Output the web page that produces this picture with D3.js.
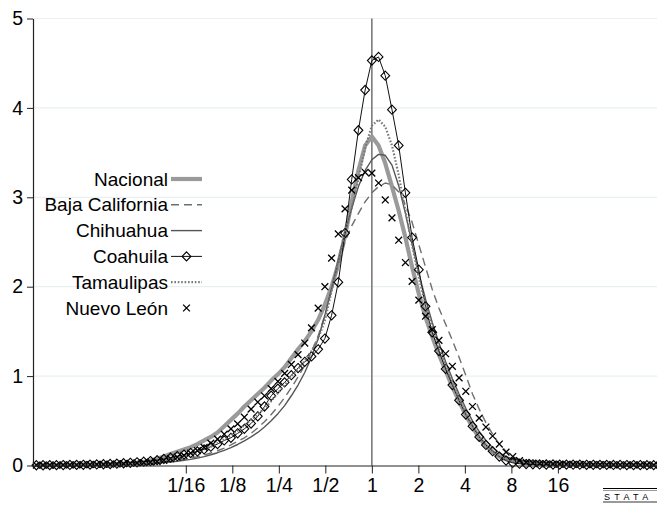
<!DOCTYPE html>
<html>
<head>
<meta charset="utf-8">
<script src="https://cdn.jsdelivr.net/npm/d3@7"></script>
<style>
  html, body { margin: 0; padding: 0; background: #fff; }
  svg { display: block; font-family: "Liberation Sans", Arial, sans-serif; }
</style>
</head>
<body>
<svg id="chart" width="657" height="506"></svg>
<script>
// Evaluation grid: log of the ratio (natural log), one point every 0.1
const lnGrid = [
  -5.0,-4.9,-4.8,-4.7,-4.6,-4.5,-4.4,-4.3,-4.2,-4.1,
  -4.0,-3.9,-3.8,-3.7,-3.6,-3.5,-3.4,-3.3,-3.2,-3.1,
  -3.0,-2.9,-2.8,-2.7,-2.6,-2.5,-2.4,-2.3,-2.2,-2.1,
  -2.0,-1.9,-1.8,-1.7,-1.6,-1.5,-1.4,-1.3,-1.2,-1.1,
  -1.0,-0.9,-0.8,-0.7,-0.6,-0.5,-0.4,-0.3,-0.2,-0.1,
  0.0,0.1,0.2,0.3,0.4,0.5,0.6,0.7,0.8,0.9,
  1.0,1.1,1.2,1.3,1.4,1.5,1.6,1.7,1.8,1.9,
  2.0,2.1,2.2,2.3,2.4,2.5,2.6,2.7,2.8,2.9,
  3.0,3.1,3.2,3.3,3.4,3.5,3.6,3.7,3.8,3.9,
  4.0,4.1,4.2,4.3,4.4,4.5,4.6,4.7,4.8,4.9,5.0
];

// Densities, one value per grid point
const nacional = [
  0.004,0.004,0.005,0.005,0.006,0.007,0.008,0.009,0.010,0.011,
  0.013,0.015,0.018,0.022,0.027,0.033,0.042,0.055,0.075,0.100,
  0.128,0.155,0.180,0.205,0.240,0.280,0.320,0.370,0.440,0.510,
  0.580,0.660,0.730,0.800,0.870,0.950,1.020,1.100,1.200,1.300,
  1.390,1.500,1.630,1.800,2.000,2.250,2.570,2.950,3.300,3.580,
  3.680,3.580,3.380,3.120,2.850,2.550,2.220,1.920,1.660,1.440,
  1.240,1.060,0.880,0.720,0.560,0.430,0.310,0.220,0.150,0.100,
  0.070,0.050,0.040,0.033,0.028,0.024,0.021,0.019,0.017,0.015,
  0.014,0.013,0.012,0.011,0.010,0.009,0.009,0.008,0.007,0.007,
  0.006,0.006,0.005,0.005,0.005,0.004,0.004,0.004,0.003,0.003,0.003
];
const bajaCalifornia = [
  0.002,0.002,0.002,0.003,0.003,0.003,0.004,0.004,0.005,0.006,
  0.007,0.008,0.009,0.011,0.013,0.016,0.020,0.025,0.031,0.038,
  0.047,0.057,0.068,0.082,0.098,0.117,0.140,0.165,0.195,0.230,
  0.270,0.310,0.360,0.420,0.490,0.570,0.660,0.760,0.870,0.990,
  1.120,1.270,1.450,1.680,1.960,2.250,2.500,2.680,2.820,2.950,
  3.050,3.120,3.160,3.140,3.060,2.920,2.720,2.470,2.220,1.970,
  1.760,1.580,1.400,1.210,1.010,0.800,0.630,0.480,0.350,0.240,
  0.160,0.100,0.065,0.045,0.035,0.028,0.024,0.021,0.018,0.016,
  0.014,0.013,0.012,0.011,0.010,0.009,0.008,0.008,0.007,0.006,
  0.006,0.005,0.005,0.004,0.004,0.004,0.003,0.003,0.003,0.002,0.002
];
const chihuahua = [
  0.001,0.001,0.002,0.002,0.002,0.003,0.003,0.004,0.004,0.005,
  0.006,0.007,0.008,0.010,0.012,0.014,0.017,0.021,0.026,0.032,
  0.039,0.047,0.057,0.069,0.083,0.100,0.120,0.143,0.170,0.200,
  0.235,0.275,0.320,0.370,0.430,0.500,0.580,0.670,0.780,0.900,
  1.040,1.210,1.420,1.680,1.980,2.300,2.600,2.880,3.120,3.300,
  3.420,3.480,3.470,3.360,3.130,2.820,2.480,2.150,1.860,1.600,
  1.370,1.160,0.970,0.800,0.640,0.500,0.380,0.280,0.200,0.140,
  0.100,0.075,0.060,0.050,0.043,0.038,0.034,0.031,0.028,0.026,
  0.024,0.022,0.020,0.018,0.017,0.015,0.014,0.013,0.012,0.011,
  0.010,0.009,0.008,0.008,0.007,0.006,0.006,0.005,0.005,0.004,0.004
];
const coahuila = [
  0.003,0.003,0.004,0.004,0.005,0.006,0.007,0.008,0.010,0.012,
  0.014,0.017,0.020,0.025,0.030,0.036,0.043,0.050,0.060,0.073,
  0.088,0.104,0.122,0.140,0.157,0.180,0.210,0.240,0.280,0.310,
  0.360,0.410,0.470,0.550,0.660,0.780,0.860,0.930,1.010,1.090,
  1.160,1.220,1.300,1.420,1.680,2.050,2.600,3.200,3.750,4.200,
  4.530,4.570,4.360,3.980,3.580,3.050,2.550,2.190,1.780,1.490,
  1.280,1.080,0.900,0.730,0.570,0.440,0.320,0.230,0.160,0.100,
  0.055,0.030,0.020,0.016,0.013,0.012,0.011,0.011,0.010,0.010,
  0.009,0.009,0.008,0.008,0.007,0.007,0.006,0.006,0.005,0.005,
  0.005,0.004,0.004,0.004,0.003,0.003,0.003,0.003,0.002,0.002,0.002
];
const tamaulipas = [
  0.002,0.002,0.003,0.003,0.003,0.004,0.004,0.005,0.006,0.007,
  0.008,0.009,0.011,0.013,0.016,0.020,0.025,0.032,0.042,0.055,
  0.070,0.085,0.100,0.125,0.150,0.180,0.210,0.250,0.290,0.340,
  0.390,0.450,0.510,0.570,0.640,0.720,0.810,0.900,1.000,1.080,
  1.170,1.280,1.420,1.620,1.950,2.300,2.620,2.880,3.200,3.560,
  3.800,3.870,3.790,3.580,3.250,2.850,2.460,2.100,1.800,1.540,
  1.320,1.120,0.930,0.750,0.580,0.440,0.320,0.220,0.150,0.100,
  0.070,0.050,0.040,0.032,0.026,0.022,0.019,0.017,0.015,0.013,
  0.012,0.011,0.010,0.009,0.008,0.008,0.007,0.006,0.006,0.005,
  0.005,0.005,0.004,0.004,0.004,0.003,0.003,0.003,0.002,0.002,0.002
];
const nuevoLeon = [
  0.004,0.004,0.005,0.005,0.006,0.007,0.008,0.009,0.010,0.012,
  0.013,0.015,0.018,0.021,0.025,0.029,0.033,0.038,0.043,0.057,
  0.076,0.094,0.113,0.138,0.167,0.203,0.250,0.295,0.350,0.410,
  0.465,0.540,0.630,0.710,0.780,0.860,0.940,1.030,1.130,1.240,
  1.370,1.540,1.760,2.000,2.320,2.590,2.870,3.080,3.220,3.280,
  3.270,3.160,2.970,2.770,2.520,2.270,2.060,1.850,1.670,1.520,
  1.400,1.250,1.110,0.980,0.830,0.660,0.530,0.430,0.330,0.240,
  0.150,0.100,0.055,0.035,0.026,0.021,0.018,0.016,0.015,0.014,
  0.013,0.012,0.011,0.010,0.010,0.009,0.008,0.008,0.007,0.007,
  0.006,0.006,0.005,0.005,0.005,0.004,0.004,0.004,0.003,0.003,0.003
];

const seriesNames = ["Nacional", "Baja California", "Chihuahua", "Coahuila", "Tamaulipas", "Nuevo León"];
const xTickRatios = [1/16, 1/8, 1/4, 1/2, 1, 2, 4, 8, 16];
const xTickLabels = ["1/16", "1/8", "1/4", "1/2", "1", "2", "4", "8", "16"];
const yTicks = [0, 1, 2, 3, 4, 5];

const svg = d3.select("#chart");

// plot area (right side runs past the picture edge, as in the original)
const x = d3.scaleLinear().domain([-5.05, 5.05]).range([33, 710.7]);
const y = d3.scaleLinear().domain([0, 5]).range([465.5, 18.5]);

// styles per series
const styles = [
  { data: nacional,       stroke: "#9a9a9a", width: 4.2, dash: null,  marker: null },
  { data: bajaCalifornia, stroke: "#6e6e6e", width: 1.4, dash: "8,5", marker: null },
  { data: chihuahua,      stroke: "#555555", width: 1.4, dash: null,  marker: null },
  { data: coahuila,       stroke: "#111111", width: 1.0, dash: null,  marker: "diamond" },
  { data: tamaulipas,     stroke: "#7a7a7a", width: 2.2, dash: "1.6,1.8", marker: null },
  { data: nuevoLeon,      stroke: null,      width: 0,   dash: null,  marker: "cross" }
];

// horizontal grid lines
svg.append("g")
  .selectAll("line")
  .data(yTicks.filter(d => d > 0))
  .enter()
  .append("line")
  .attr("x1", 33).attr("x2", 657)
  .attr("y1", d => y(d)).attr("y2", d => y(d))
  .attr("stroke", "#e8f0f1")
  .attr("stroke-width", 1.2);

// reference line at ratio 1
svg.append("line")
  .attr("x1", x(0)).attr("x2", x(0))
  .attr("y1", y(5)).attr("y2", y(0))
  .attr("stroke", "#7a7a7a")
  .attr("stroke-width", 1.6);

const line = d3.line()
  .x((d, i) => x(lnGrid[i]))
  .y(d => y(d));

const diamondPath = "M0,-4.6L4.4,0L0,4.6L-4.4,0Z";
const crossPath = "M-3.4,-3.4L3.4,3.4M-3.4,3.4L3.4,-3.4";

const plots = svg.append("g");

styles.forEach(s => {
  if (s.stroke) {
    plots.append("path")
      .datum(s.data)
      .attr("d", line)
      .attr("fill", "none")
      .attr("stroke", s.stroke)
      .attr("stroke-width", s.width)
      .attr("stroke-dasharray", s.dash)
      .attr("stroke-linejoin", "round");
  }
  if (s.marker) {
    plots.append("g")
      .selectAll("path")
      .data(s.data)
      .enter()
      .append("path")
      .attr("transform", (d, i) => `translate(${x(lnGrid[i])},${y(d)})`)
      .attr("d", s.marker === "diamond" ? diamondPath : crossPath)
      .attr("fill", "none")
      .attr("stroke", "#000")
      .attr("stroke-width", s.marker === "diamond" ? 1.1 : 1.3);
  }
});

// Y axis
const yAxis = svg.append("g")
  .attr("transform", "translate(33,0)")
  .call(d3.axisLeft(y).tickValues(yTicks).tickFormat(d3.format("d")).tickSize(6).tickSizeOuter(0).tickPadding(4));

// X axis (log scale labels)
const xAxis = svg.append("g")
  .attr("transform", `translate(0,${y(0)})`)
  .call(d3.axisBottom(x)
    .tickValues(xTickRatios.map(r => Math.log(r)))
    .tickFormat((d, i) => xTickLabels[i])
    .tickSize(8).tickSizeOuter(0).tickPadding(5));

[yAxis, xAxis].forEach(a => {
  a.select(".domain").attr("stroke", "#222").attr("stroke-width", 1.2);
  a.selectAll(".tick line").attr("stroke", "#222").attr("stroke-width", 1);
  a.selectAll("text")
    .attr("fill", "#000")
    .style("font-size", "19.5px")
    .style("font-family", "'Liberation Sans', Arial, sans-serif");
});

// Legend inside the plot
const legend = svg.append("g");
const rowY = [179, 204.8, 230.6, 256.4, 282.2, 308];

styles.forEach((s, i) => {
  const row = legend.append("g").attr("transform", `translate(0,${rowY[i]})`);
  row.append("text")
    .attr("x", 168)
    .attr("y", 0)
    .attr("dy", "0.35em")
    .attr("text-anchor", "end")
    .style("font-size", "19px")
    .text(seriesNames[i]);
  if (s.stroke) {
    row.append("line")
      .attr("x1", 171).attr("x2", 202)
      .attr("y1", 0).attr("y2", 0)
      .attr("stroke", s.stroke)
      .attr("stroke-width", s.width)
      .attr("stroke-dasharray", s.dash);
  }
  if (s.marker) {
    row.append("path")
      .attr("transform", "translate(186.5,0)")
      .attr("d", s.marker === "diamond" ? diamondPath : crossPath)
      .attr("fill", "none")
      .attr("stroke", "#000")
      .attr("stroke-width", s.marker === "diamond" ? 1.1 : 1.3);
  }
});

// Stata badge, bottom right
const badge = svg.append("g");
badge.append("line").attr("x1", 603).attr("x2", 657).attr("y1", 488.5).attr("y2", 488.5)
  .attr("stroke", "#000").attr("stroke-width", 1);
badge.append("line").attr("x1", 603).attr("x2", 657).attr("y1", 490.5).attr("y2", 490.5)
  .attr("stroke", "#999").attr("stroke-width", 1);
badge.append("text")
  .attr("x", 604).attr("y", 500)
  .style("font-size", "9px")
  .style("letter-spacing", "4.3px")
  .text("STATA");
badge.append("line").attr("x1", 603).attr("x2", 657).attr("y1", 502).attr("y2", 502)
  .attr("stroke", "#000").attr("stroke-width", 0.8);
</script>
</body>
</html>
